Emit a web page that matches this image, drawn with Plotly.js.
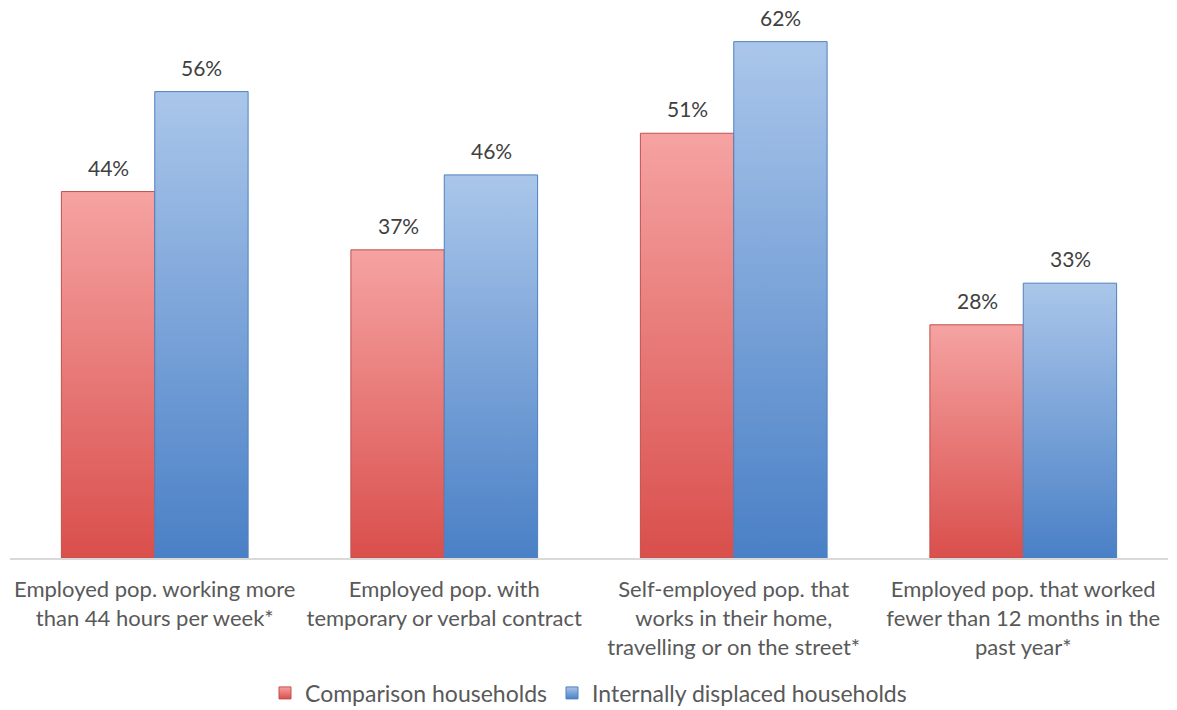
<!DOCTYPE html>
<html>
<head>
<meta charset="utf-8">
<script src="https://cdn.plot.ly/plotly-3.0.1.min.js"></script>
<style>html,body{margin:0;padding:0;background:#fff;}#chart{width:1177px;height:710px;}</style>
</head>
<body>
<div id="chart"></div>
<script>
const categories = [
  "Employed pop. working more<br>than 44 hours per week*",
  "Employed pop. with<br>temporary or verbal contract",
  "Self-employed pop. that<br>works in their home,<br>travelling or on the street*",
  "Employed pop. that worked<br>fewer than 12 months in the<br>past year*"
];
const comparison = [44, 37, 51, 28];
const displaced = [56, 46, 62, 33];
const seriesNames = ["Comparison households", "Internally displaced households"];

const font = "Lato, 'Open Sans', sans-serif";
const traces = [
  {
    type: "bar", name: seriesNames[0], x: categories, y: comparison,
    marker: {color: "#e87474", line: {color: "#c0504d", width: 1}},
    hoverinfo: "none"
  },
  {
    type: "bar", name: seriesNames[1], x: categories, y: displaced,
    marker: {color: "#7aa3d8", line: {color: "#4f81bd", width: 1}},
    hoverinfo: "none"
  }
];
const annotations = [];
[comparison, displaced].forEach((vals, s) => {
  vals.forEach((v, i) => {
    annotations.push({
      x: categories[i], y: v, xref: "x", yref: "y",
      text: v + "%", showarrow: false,
      xanchor: "center", yanchor: "bottom",
      xshift: s === 0 ? -46 : 47, yshift: 10,
      font: {size: 21, color: "#404040", family: font}
    });
  });
});
const layout = {
  width: 1177, height: 710,
  margin: {l: 10, r: 9, t: 0, b: 152},
  paper_bgcolor: "#fff", plot_bgcolor: "#fff",
  barmode: "group", bargap: 0.355, bargroupgap: 0,
  font: {family: font, color: "#595959", size: 22},
  xaxis: {
    showline: true, linecolor: "#d9d9d9", linewidth: 2,
    ticks: "", tickfont: {size: 22, color: "#595959", family: font},
    ticklabelstandoff: 11,
    fixedrange: true
  },
  yaxis: {range: [0, 67], visible: false, showgrid: false, zeroline: false, fixedrange: true},
  annotations: annotations,
  showlegend: true,
  legend: {
    orientation: "h", xref: "container", yref: "container",
    x: 0.5, xanchor: "center", y: 0.024, yanchor: "middle",
    font: {size: 23, color: "#595959", family: font},
    itemwidth: 30, tracegroupgap: 0
  }
};
Plotly.newPlot("chart", traces, layout, {displayModeBar: false, staticPlot: true}).then(gd => {
  const svg = gd.querySelector("svg.main-svg");
  const ns = "http://www.w3.org/2000/svg";
  const defs = document.createElementNS(ns, "defs");
  const mk = (id, top, bot) => {
    const g = document.createElementNS(ns, "linearGradient");
    g.setAttribute("id", id); g.setAttribute("x1", "0"); g.setAttribute("y1", "0");
    g.setAttribute("x2", "0"); g.setAttribute("y2", "1");
    [[0, top], [1, bot]].forEach(([o, c]) => {
      const s = document.createElementNS(ns, "stop");
      s.setAttribute("offset", o); s.setAttribute("stop-color", c);
      g.appendChild(s);
    });
    defs.appendChild(g);
  };
  mk("gradRed", "#f5a3a2", "#d94f4c");
  mk("gradBlue", "#aac6ea", "#4a80c6");
  svg.insertBefore(defs, svg.firstChild);
  const groups = gd.querySelectorAll(".barlayer .trace");
  const ids = ["gradRed", "gradBlue"];
  groups.forEach((tg, i) => {
    tg.querySelectorAll("path").forEach(p => { p.style.fill = "url(#" + ids[i] + ")"; });
  });
  gd.querySelectorAll(".legend .traces").forEach((tg, i) => {
    tg.querySelectorAll(".legendpoints path").forEach(p => { p.style.fill = "url(#" + ids[i] + ")"; });
  });
});
</script>
</body>
</html>
